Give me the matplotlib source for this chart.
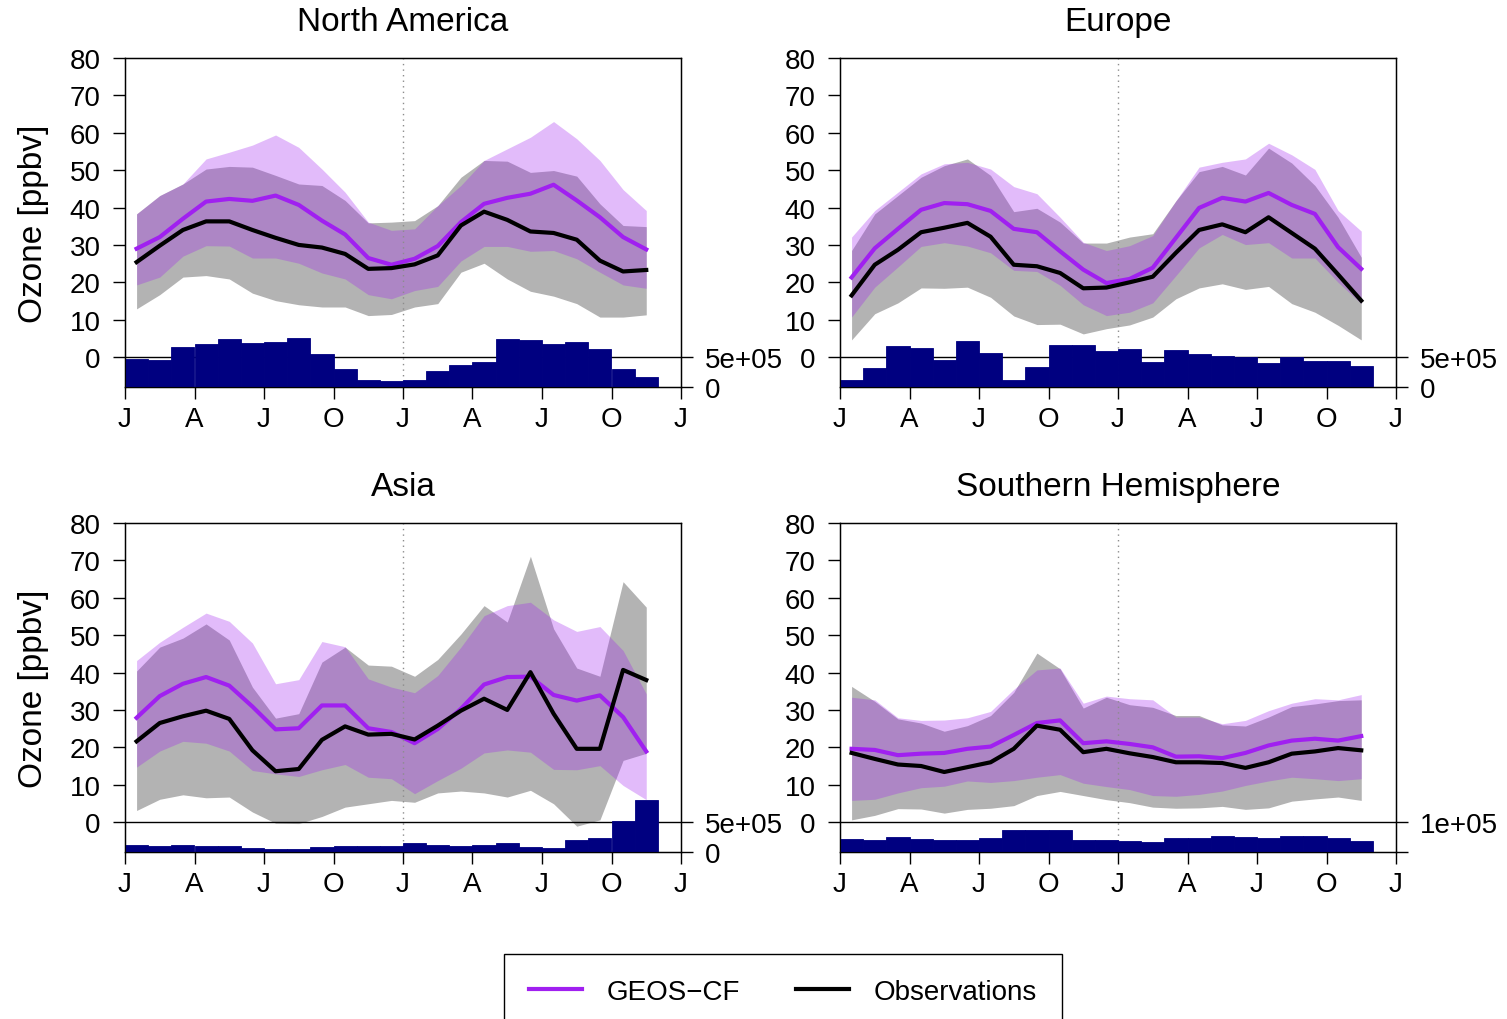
import numpy as np
import matplotlib
matplotlib.use("Agg")
import matplotlib.pyplot as plt
from matplotlib.lines import Line2D

plt.rcParams['font.family'] = ['Liberation Sans', 'DejaVu Sans']

# monthly values, Jan of year 1 to Nov of year 2
regions = ['North America', 'Europe', 'Asia', 'Southern Hemisphere']

# North America
na_model = [29.0, 32.1, 37.0, 41.6, 42.3, 41.8, 43.2, 40.7, 36.5, 32.8, 26.5, 24.7,
            26.3, 29.7, 36.1, 41.0, 42.6, 43.7, 46.1, 41.9, 37.4, 32.1, 28.8]
na_obs = [25.4, 29.8, 34.0, 36.3, 36.3, 34.0, 31.9, 30.0, 29.3, 27.6, 23.6, 23.8,
          24.8, 27.2, 35.2, 38.9, 36.7, 33.6, 33.2, 31.4, 25.8, 22.9, 23.3]
na_model_hi = [38.3, 43.2, 46.3, 53.0, 54.8, 56.7, 59.4, 56.1, 50.3, 44.1, 36.1, 33.9,
               34.3, 40.5, 45.9, 52.6, 55.7, 58.8, 63.0, 58.4, 52.6, 44.8, 39.2]
na_model_lo = [19.3, 21.4, 27.0, 29.8, 29.7, 26.5, 26.5, 25.1, 22.5, 20.9, 16.7, 15.6,
               17.8, 18.9, 25.7, 29.6, 29.6, 28.3, 28.5, 26.3, 22.7, 19.3, 18.4]
na_obs_hi = [38.3, 43.2, 46.3, 50.3, 51.0, 50.8, 48.6, 46.3, 45.9, 41.9, 35.9, 36.1,
             36.5, 40.5, 48.1, 52.6, 52.4, 49.4, 49.9, 48.4, 41.0, 35.2, 34.9]
na_obs_lo = [12.9, 16.7, 21.4, 21.8, 20.9, 17.1, 15.1, 14.0, 13.4, 13.4, 11.1, 11.4,
             13.4, 14.3, 22.7, 25.1, 20.9, 17.6, 16.3, 14.3, 10.7, 10.7, 11.3]
na_nobs = [472e3, 456e3, 669e3, 725e3, 806e3, 738e3, 756e3, 825e3, 556e3, 306e3, 119e3, 106e3,
           119e3, 263e3, 363e3, 413e3, 806e3, 788e3, 725e3, 756e3, 638e3, 306e3, 169e3]

# Europe
eu_model = [21.3, 29.1, 34.3, 39.4, 41.2, 40.9, 39.1, 34.3, 33.4, 28.3, 23.4, 19.8,
            20.9, 23.9, 31.9, 39.9, 42.6, 41.6, 43.9, 40.7, 38.3, 29.4, 23.6]
eu_obs = [16.5, 24.7, 28.7, 33.4, 34.6, 35.9, 32.2, 24.7, 24.3, 22.5, 18.4, 18.6,
          20.0, 21.5, 27.9, 34.0, 35.5, 33.4, 37.4, 33.2, 29.0, 22.1, 15.1]
eu_model_hi = [32.1, 39.2, 44.1, 49.0, 51.7, 52.1, 50.3, 45.6, 43.7, 37.4, 30.7, 28.5,
               29.8, 32.5, 41.8, 50.8, 52.1, 53.0, 57.2, 54.1, 50.2, 39.2, 33.7]
eu_model_lo = [10.7, 18.7, 24.1, 29.6, 30.6, 29.7, 27.9, 23.2, 22.9, 19.2, 14.0, 11.1,
               12.0, 14.5, 21.8, 29.2, 32.8, 30.1, 30.6, 26.5, 26.5, 20.0, 14.3]
eu_obs_hi = [28.5, 38.3, 43.2, 48.1, 51.2, 53.0, 48.6, 38.9, 39.8, 36.1, 30.5, 30.5,
             32.1, 33.0, 41.8, 49.6, 51.0, 48.7, 55.9, 51.9, 45.9, 37.4, 26.7]
eu_obs_lo = [4.6, 11.6, 14.5, 18.5, 18.4, 18.7, 16.0, 11.0, 8.7, 8.8, 6.2, 7.6,
             8.6, 10.7, 15.6, 18.5, 19.6, 18.1, 18.9, 14.3, 12.0, 8.5, 4.6]
eu_nobs = [119e3, 319e3, 688e3, 650e3, 444e3, 775e3, 575e3, 119e3, 338e3, 706e3, 706e3, 594e3,
           638e3, 425e3, 625e3, 544e3, 525e3, 500e3, 394e3, 500e3, 438e3, 438e3, 356e3]

# Asia
as_model = [27.9, 33.7, 37.0, 38.8, 36.5, 30.9, 24.8, 25.1, 31.2, 31.2, 25.1, 24.1,
            21.1, 24.9, 30.3, 36.8, 38.8, 38.9, 34.0, 32.5, 33.9, 28.1, 18.9]
as_obs = [21.6, 26.5, 28.3, 29.8, 27.6, 19.2, 13.6, 14.2, 22.0, 25.6, 23.4, 23.6,
          22.1, 25.8, 29.8, 33.0, 30.0, 40.1, 29.0, 19.6, 19.6, 40.7, 38.0]
as_model_hi = [43.2, 48.1, 52.1, 55.9, 53.7, 47.9, 37.0, 38.1, 48.3, 46.9, 38.3, 36.1,
               34.6, 39.2, 46.8, 55.2, 57.9, 58.8, 54.1, 51.0, 52.3, 45.9, 34.3]
as_model_lo = [14.7, 19.0, 21.6, 21.1, 19.0, 13.8, 12.9, 12.2, 14.0, 15.4, 12.0, 11.6,
               7.6, 11.1, 14.4, 18.5, 19.3, 18.7, 14.1, 14.0, 15.1, 9.8, 6.0]
as_obs_hi = [40.4, 46.8, 49.2, 53.0, 48.7, 36.1, 27.8, 29.0, 42.8, 46.8, 42.0, 41.7,
             39.0, 43.5, 50.3, 57.9, 53.5, 71.1, 51.7, 41.2, 39.0, 64.3, 57.5]
as_obs_lo = [3.1, 6.1, 7.3, 6.5, 6.7, 2.7, -0.3, -0.4, 1.5, 4.0, 4.9, 5.8,
             5.3, 7.8, 8.3, 7.8, 6.7, 8.5, 4.9, -1.1, 0.6, 16.5, 18.4]
as_nobs = [119e3, 106e3, 119e3, 106e3, 106e3, 69e3, 56e3, 56e3, 88e3, 106e3, 106e3, 106e3,
           156e3, 119e3, 106e3, 119e3, 156e3, 88e3, 69e3, 206e3, 238e3, 525e3, 869e3]

# Southern Hemisphere
sh_model = [19.6, 19.3, 17.9, 18.3, 18.5, 19.6, 20.2, 23.3, 26.5, 27.2, 21.1, 21.6,
            20.9, 20.0, 17.5, 17.6, 17.1, 18.5, 20.5, 21.8, 22.3, 21.8, 23.0]
sh_obs = [18.5, 16.9, 15.4, 15.0, 13.4, 14.7, 16.0, 19.6, 25.8, 24.7, 18.7, 19.6,
          18.4, 17.4, 16.0, 16.0, 15.8, 14.5, 16.0, 18.3, 18.9, 19.8, 19.2]
sh_model_hi = [33.4, 32.7, 27.9, 27.2, 27.3, 27.9, 29.6, 35.5, 40.7, 41.2, 31.8, 33.7,
               33.0, 32.7, 28.1, 28.1, 26.3, 27.2, 29.8, 31.8, 33.0, 32.7, 34.1]
sh_model_lo = [5.8, 6.1, 7.8, 9.2, 9.6, 11.0, 10.6, 11.1, 12.0, 12.7, 10.4, 9.5,
               8.7, 7.1, 6.9, 7.4, 8.3, 9.8, 11.0, 12.0, 11.6, 11.1, 11.6]
sh_obs_hi = [36.3, 32.3, 27.6, 26.5, 24.3, 25.8, 28.5, 34.7, 45.2, 41.0, 30.5, 33.4,
             31.4, 30.7, 28.5, 28.5, 26.0, 25.7, 28.1, 30.9, 31.6, 32.5, 32.7]
sh_obs_lo = [0.6, 1.8, 3.6, 3.5, 2.4, 3.4, 3.7, 4.4, 7.1, 8.2, 7.1, 6.0,
             5.2, 4.0, 3.7, 3.8, 4.2, 3.4, 3.8, 5.6, 6.2, 6.7, 5.8]
sh_nobs = [43.8e3, 38.8e3, 50e3, 43.8e3, 41.3e3, 41.3e3, 47.5e3, 72.5e3, 72.5e3, 72.5e3, 41.3e3, 41.3e3,
           36.3e3, 33.8e3, 47.5e3, 47.5e3, 53.8e3, 51.3e3, 47.5e3, 53.8e3, 53.8e3, 47.5e3, 36.3e3]

# right axis reference (count shown at ozone = 0) and its labels
nobs_ref = [5e5, 5e5, 5e5, 1e5]
nobs_labels = [['0', '5e+05'], ['0', '5e+05'], ['0', '5e+05'], ['', '1e+05']]

month_labels = ['J', 'A', 'J', 'O', 'J', 'A', 'J', 'O', 'J']

panels = [
    (na_model, na_obs, na_model_hi, na_model_lo, na_obs_hi, na_obs_lo, na_nobs),
    (eu_model, eu_obs, eu_model_hi, eu_model_lo, eu_obs_hi, eu_obs_lo, eu_nobs),
    (as_model, as_obs, as_model_hi, as_model_lo, as_obs_hi, as_obs_lo, as_nobs),
    (sh_model, sh_obs, sh_model_hi, sh_model_lo, sh_obs_hi, sh_obs_lo, sh_nobs),
]

# axes boxes in pixels (left, top), converted to figure fractions below
W, H = 1507, 1020
boxes = [(125, 59), (840, 59), (125, 524), (840, 524)]
bw, bh = 556, 329

purple = '#A020F0'
fig = plt.figure(figsize=(W / 100, H / 100), dpi=100)

for k, (name, data) in enumerate(zip(regions, panels)):
    model, obs, mhi, mlo, ohi, olo, nobs = data
    x0, y0 = boxes[k]
    ax = fig.add_axes([x0 / W, 1 - (y0 + bh) / H, bw / W, bh / H])

    n = len(model)
    months = np.arange(n)
    mid = months + 0.5

    ax.fill_between(mid, olo, ohi, color='#B3B3B3', linewidth=0, zorder=1)
    ax.fill_between(mid, mlo, mhi, color=purple, alpha=0.3, linewidth=0, zorder=2)
    ax.axvline(12, color='#8C8C8C', linestyle=(0, (1, 3)), linewidth=1, zorder=3)
    ax.axhline(0, color='black', linewidth=1, zorder=3)
    ax.plot(mid, model, color=purple, linewidth=3, zorder=4)
    ax.plot(mid, obs, color='black', linewidth=3, zorder=5)

    ax.set_xlim(0, 24)
    ax.set_ylim(-8, 80)
    ax.set_yticks(range(0, 81, 10))
    ax.set_xticks(range(0, 25, 3))
    ax.set_xticklabels(month_labels)
    ax.tick_params(direction='out', length=8.5, width=1, labelsize=20)
    ax.tick_params(axis='y', pad=9)
    ax.tick_params(axis='x', pad=5)
    for s in ax.spines.values():
        s.set_linewidth(1)
    ax.set_title(name, fontsize=24, pad=20)
    if k % 2 == 0:
        ax.set_ylabel('Ozone [ppbv]', fontsize=24, labelpad=15)

    # number of observations on a second scale
    ref = nobs_ref[k]
    ax2 = ax.twinx()
    ax2.set_ylim(0, ref * 88 / 8)
    ax2.bar(months, nobs, width=1, align='edge', color='navy',
            edgecolor='navy', linewidth=0.6)
    ax2.set_yticks([0, ref])
    ax2.set_yticklabels(nobs_labels[k])
    ax2.tick_params(direction='out', length=8.5, width=1, labelsize=20, pad=9)
    ax2.set_xlim(0, 24)

handles = [Line2D([], [], color=purple, linewidth=3),
           Line2D([], [], color='black', linewidth=3)]
fig.legend(handles, ['GEOS\u2212CF', 'Observations'], loc='upper center',
           bbox_to_anchor=(783 / W, 1 - 955 / H), ncol=2, fontsize=20,
           frameon=True, fancybox=False, edgecolor='black', framealpha=1,
           handlelength=1.9, handletextpad=0.9, columnspacing=2.0,
           borderpad=0.9, borderaxespad=0)

fig.savefig('out.png', dpi=100)
